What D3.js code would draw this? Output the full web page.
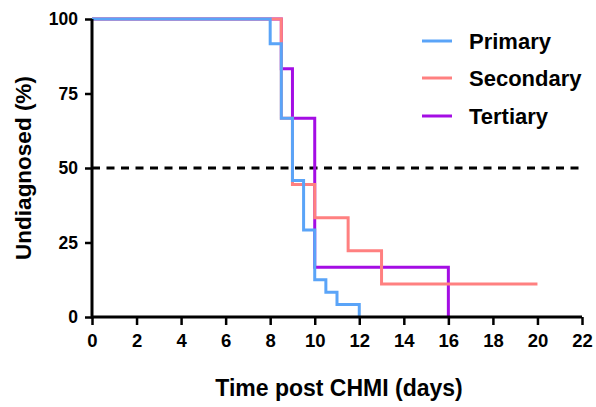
<!DOCTYPE html>
<html>
<head>
<meta charset="utf-8">
<script src="https://cdn.jsdelivr.net/npm/d3@7"></script>
<style>
  html, body { margin: 0; padding: 0; background: #fff; }
  svg { display: block; }
  text { font-family: "Liberation Sans", Arial, Helvetica, sans-serif; font-weight: bold; fill: #000; }
</style>
</head>
<body>
<svg id="chart" width="596" height="407"></svg>
<script>
// ---- data ----
const seriesNames = ["Primary", "Secondary", "Tertiary"];
const seriesColors = ["#5AA4F8", "#FF8080", "#A40DE4"];
const primaryTimes = [0, 8, 8.5, 9, 9.5, 10, 10.5, 11, 12];
const primaryValues = [100, 91.67, 66.67, 45.83, 29.17, 12.5, 8.33, 4.17, 0];
const secondaryTimes = [0, 8.5, 9, 10, 11.5, 13, 20];
const secondaryValues = [100, 66.67, 44.44, 33.33, 22.22, 11.11, 11.11];
const tertiaryTimes = [0, 8.5, 9, 10, 16];
const tertiaryValues = [100, 83.33, 66.67, 16.67, 0];
const xTicks = [0, 2, 4, 6, 8, 10, 12, 14, 16, 18, 20, 22];
const yTicks = [0, 25, 50, 75, 100];
const referenceLevel = 50;
const xTitle = "Time post CHMI (days)";
const yTitle = "Undiagnosed (%)";

// ---- layout ----
const svg = d3.select("#chart");
const x = d3.scaleLinear().domain([0, 22]).range([92, 582]);
const y = d3.scaleLinear().domain([0, 100]).range([317, 19]);

const series = [
  { name: seriesNames[0], color: seriesColors[0], t: primaryTimes, v: primaryValues },
  { name: seriesNames[1], color: seriesColors[1], t: secondaryTimes, v: secondaryValues },
  { name: seriesNames[2], color: seriesColors[2], t: tertiaryTimes, v: tertiaryValues }
];

// dashed reference line
svg.append("line")
  .attr("x1", x(0)).attr("x2", x(22))
  .attr("y1", y(referenceLevel)).attr("y2", y(referenceLevel))
  .attr("stroke", "#000").attr("stroke-width", 2.8)
  .attr("stroke-dasharray", "8,6.5");

// step lines: draw order purple, salmon, blue
const line = d3.line().x(d => x(d[0])).y(d => y(d[1])).curve(d3.curveStepAfter);
[2, 1, 0].forEach(i => {
  const s = series[i];
  const pts = s.t.map((t, k) => [t, s.v[k]]);
  svg.append("path")
    .attr("d", line(pts))
    .attr("fill", "none")
    .attr("stroke", s.color)
    .attr("stroke-width", 3)
    .attr("stroke-linejoin", "miter")
    .attr("stroke-linecap", "butt");
});

// axes
const xAxis = svg.append("g").attr("transform", `translate(0,${y(0)})`)
  .call(d3.axisBottom(x).tickValues(xTicks).tickSize(8).tickPadding(9).tickFormat(d3.format("d")));
const yAxis = svg.append("g").attr("transform", `translate(${x(0)},0)`)
  .call(d3.axisLeft(y).tickValues(yTicks).tickSize(7).tickPadding(7).tickFormat(d3.format("d")));

[xAxis, yAxis].forEach(g => {
  g.select(".domain").attr("stroke", "#000").attr("stroke-width", 3);
  g.selectAll(".tick line").attr("stroke", "#000").attr("stroke-width", 2.5);
  g.selectAll(".tick text")
    .attr("font-family", '"Liberation Sans", Arial, sans-serif').attr("font-weight", "bold").attr("fill", "#000");
});
xAxis.selectAll(".tick text").attr("font-size", 18.5);
yAxis.selectAll(".tick text").attr("font-size", 17.5);
xAxis.select(".domain").attr("d", `M${x(0)},0H${x(22)}`);
yAxis.select(".domain").attr("d", `M0,${y(0) + 1.5}V${y(100)}`);

// titles
svg.append("text")
  .attr("x", (x(0) + x(22)) / 2 + 2).attr("y", 396)
  .attr("text-anchor", "middle").attr("font-size", 23)
  .text(xTitle);
svg.append("text")
  .attr("transform", `translate(31,${(y(0) + y(100)) / 2}) rotate(-90)`)
  .attr("text-anchor", "middle").attr("font-size", 22.5)
  .text(yTitle);

// legend
const legend = svg.append("g");
const legendY = [41, 78, 116];
series.forEach((s, i) => {
  legend.append("line")
    .attr("x1", 422).attr("x2", 452)
    .attr("y1", legendY[i]).attr("y2", legendY[i])
    .attr("stroke", s.color).attr("stroke-width", 3);
  legend.append("text")
    .attr("x", 469).attr("y", legendY[i] + 7.5)
    .attr("font-size", 22)
    .text(s.name);
});
</script>
</body>
</html>
